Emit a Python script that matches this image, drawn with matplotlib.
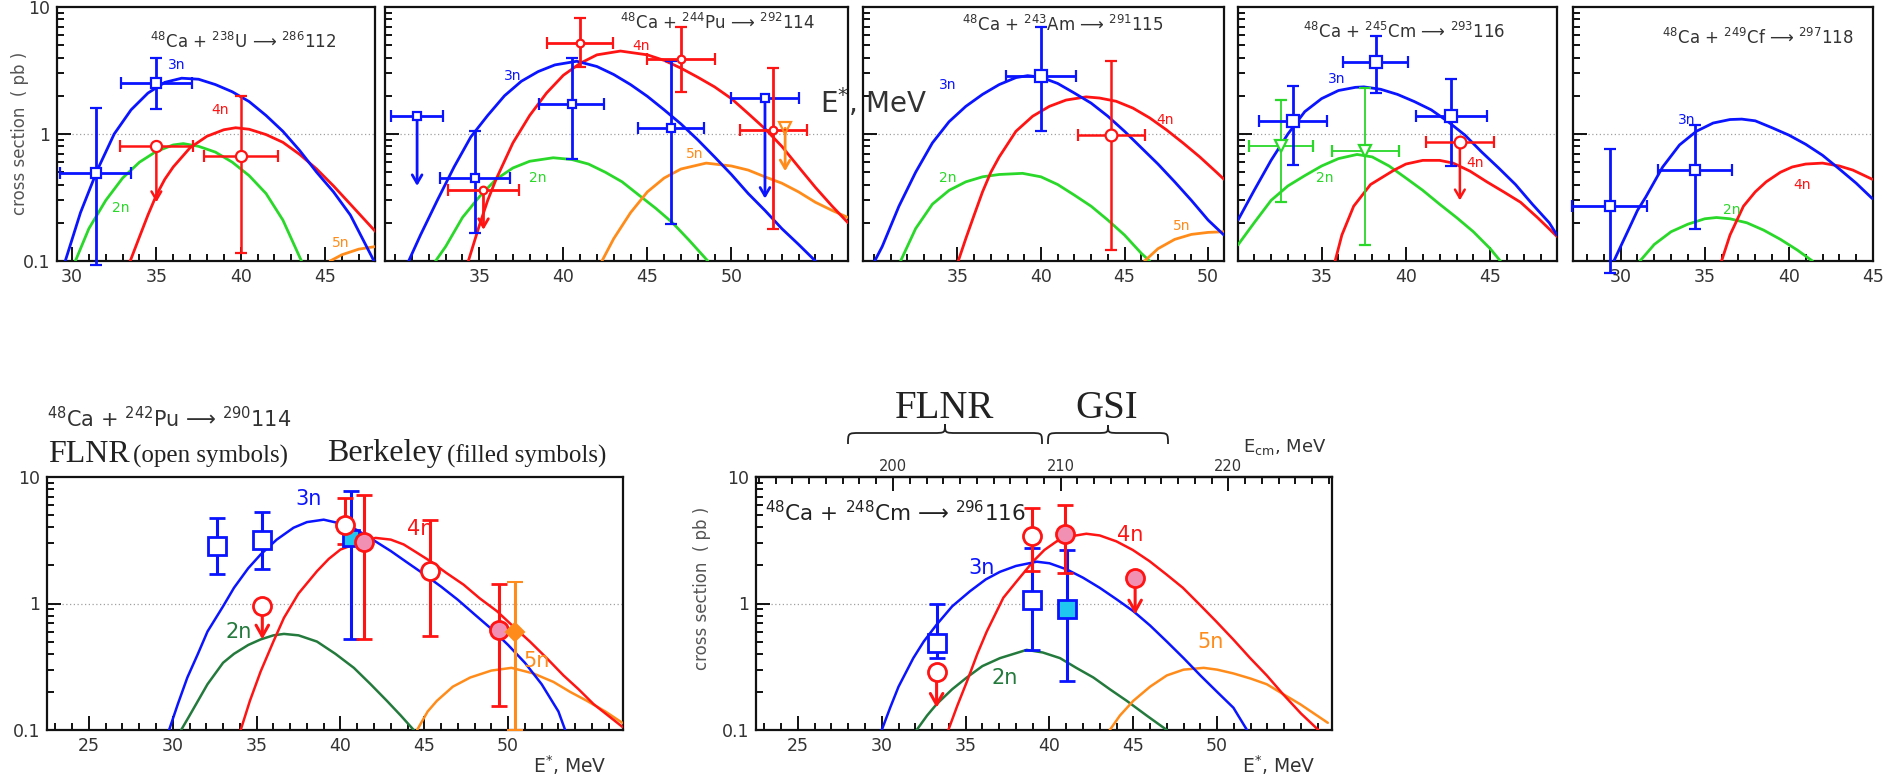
import numpy as np
import matplotlib
matplotlib.use("Agg")
import matplotlib.pyplot as plt
from matplotlib.ticker import MultipleLocator, NullFormatter
from matplotlib.path import Path
from matplotlib.patches import PathPatch

plt.rcParams['font.family'] = ['DejaVu Sans']
plt.rcParams['mathtext.fontset'] = 'dejavusans'
plt.rcParams['mathtext.default'] = 'regular'

# ---------------- DATA ----------------
# Panel 1: 48Ca + 238U
P1_3N_E = [29.6, 30.5, 31.5, 32.5, 33.5, 34.5, 35.5, 36.5, 37.5, 38.5, 39.5, 40.5, 41.5, 42.5, 43.5, 44.5, 45.5, 46.5, 47.9]
P1_3N_S = [0.1, 0.24, 0.52, 1.0, 1.55, 2.1, 2.55, 2.75, 2.7, 2.45, 2.15, 1.8, 1.4, 1.05, 0.74, 0.5, 0.35, 0.23, 0.1]
P1_4N_E = [33.45, 34.0, 34.5, 35.0, 35.5, 36.0, 37.0, 38.0, 39.0, 39.7, 40.5, 41.5, 42.5, 43.5, 44.5, 45.5, 46.5, 48.0]
P1_4N_S = [0.1, 0.155, 0.23, 0.33, 0.44, 0.55, 0.78, 0.96, 1.08, 1.12, 1.09, 0.99, 0.86, 0.69, 0.53, 0.39, 0.28, 0.17]
P1_2N_E = [30.2, 31.0, 32.0, 33.0, 34.0, 35.0, 36.0, 36.6, 37.5, 38.5, 39.5, 40.5, 41.5, 42.5, 43.0, 43.6]
P1_2N_S = [0.1, 0.18, 0.3, 0.45, 0.6, 0.73, 0.82, 0.84, 0.8, 0.72, 0.6, 0.47, 0.34, 0.21, 0.15, 0.1]
P1_5N_E = [45.3, 46.0, 47.0, 48.0]
P1_5N_S = [0.1, 0.112, 0.124, 0.13]
P1_SQ_E = [31.4, 35.0]
P1_SQ_S = [0.49, 2.52]
P1_SQ_LO = [0.093, 1.56]
P1_SQ_HI = [1.6, 4.0]
P1_SQ_XE = [2.1, 2.1]
P1_CI_E = [40.0]
P1_CI_S = [0.67]
P1_CI_LO = [0.115]
P1_CI_HI = [1.98]
P1_CI_XE = [2.2]
P1_UL_E = [35.0]
P1_UL_S = [0.8]
P1_UL_TO = [0.29]
P1_UL_XE = [2.15]

# Panel 2: 48Ca + 244Pu
P2_3N_E = [30.8, 31.5, 32.5, 33.5, 34.5, 35.5, 36.5, 37.5, 38.5, 39.5, 40.8, 42.0, 43.0, 44.0, 45.0, 46.0, 47.0, 48.0, 49.0, 50.0, 51.0, 52.0, 53.0, 54.0, 55.0]
P2_3N_S = [0.1, 0.16, 0.3, 0.55, 0.95, 1.4, 2.0, 2.6, 3.1, 3.5, 3.74, 3.4, 2.94, 2.45, 1.98, 1.55, 1.2, 0.9, 0.66, 0.48, 0.34, 0.25, 0.18, 0.135, 0.1]
P2_4N_E = [34.35, 35.0, 35.5, 36.0, 37.0, 38.0, 39.0, 40.0, 41.0, 42.0, 43.4, 45.0, 46.0, 47.0, 48.0, 49.0, 50.0, 51.0, 52.0, 53.0, 54.0, 55.0, 56.0, 56.94]
P2_4N_S = [0.1, 0.19, 0.3, 0.44, 0.85, 1.4, 2.1, 2.9, 3.6, 4.2, 4.5, 4.2, 3.8, 3.3, 2.8, 2.35, 1.9, 1.45, 1.1, 0.8, 0.55, 0.38, 0.27, 0.2]
P2_2N_E = [32.4, 33.0, 34.0, 35.0, 36.0, 37.0, 38.0, 39.4, 40.5, 41.5, 42.5, 43.5, 44.5, 45.5, 46.5, 47.5, 48.6]
P2_2N_S = [0.1, 0.13, 0.22, 0.32, 0.44, 0.54, 0.61, 0.65, 0.63, 0.58, 0.5, 0.42, 0.33, 0.26, 0.2, 0.145, 0.1]
P2_5N_E = [42.3, 43.0, 44.0, 45.0, 46.0, 47.0, 48.5, 50.0, 51.0, 52.0, 53.0, 54.0, 55.0, 56.0, 56.94]
P2_5N_S = [0.1, 0.15, 0.24, 0.35, 0.45, 0.53, 0.59, 0.56, 0.52, 0.46, 0.41, 0.35, 0.29, 0.25, 0.22]
P2_SQ_E = [34.75, 40.5, 46.4]
P2_SQ_S = [0.45, 1.73, 1.11]
P2_SQ_LO = [0.166, 0.63, 0.196]
P2_SQ_HI = [1.05, 3.97, 3.74]
P2_SQ_XE = [2.1, 1.95, 1.95]
P2_SQUL_E = [31.3, 52.0]
P2_SQUL_S = [1.38, 1.92]
P2_SQUL_TO = [0.39, 0.31]
P2_SQUL_XE = [1.55, 2.0]
P2_CI_E = [41.0, 47.0, 52.5]
P2_CI_S = [5.2, 3.9, 1.08]
P2_CI_LO = [3.4, 2.13, 0.18]
P2_CI_HI = [8.2, 7.0, 3.3]
P2_CI_XE = [1.95, 2.0, 2.0]
P2_CIUL_E = [35.25]
P2_CIUL_S = [0.365]
P2_CIUL_TO = [0.176]
P2_CIUL_XE = [2.1]
P2_TRUL_E = [53.2]
P2_TRUL_S = [1.11]
P2_TRUL_TO = [0.51]

# Panel 3: 48Ca + 243Am
P3_3N_E = [30.05, 30.5, 31.5, 32.5, 33.5, 34.5, 35.5, 36.5, 37.5, 38.5, 39.2, 40.0, 41.0, 42.0, 43.0, 44.0, 45.0, 46.0, 47.0, 48.0, 49.0, 50.0, 50.95]
P3_3N_S = [0.1, 0.13, 0.27, 0.5, 0.85, 1.25, 1.65, 2.05, 2.45, 2.78, 2.88, 2.8, 2.5, 2.1, 1.75, 1.38, 1.05, 0.78, 0.58, 0.42, 0.3, 0.21, 0.16]
P3_4N_E = [35.05, 35.5, 36.0, 36.5, 37.0, 37.5, 38.5, 39.5, 40.5, 41.5, 42.7, 43.5, 44.5, 45.5, 46.5, 47.5, 48.5, 49.5, 50.5, 50.95]
P3_4N_S = [0.1, 0.15, 0.23, 0.35, 0.5, 0.66, 1.05, 1.38, 1.65, 1.85, 1.96, 1.92, 1.81, 1.6, 1.34, 1.08, 0.85, 0.66, 0.5, 0.44]
P3_2N_E = [31.6, 32.5, 33.5, 34.5, 35.5, 36.5, 37.5, 38.9, 40.0, 41.0, 42.0, 43.0, 44.0, 45.0, 46.0, 46.5]
P3_2N_S = [0.1, 0.18, 0.28, 0.36, 0.42, 0.46, 0.48, 0.49, 0.46, 0.4, 0.33, 0.27, 0.21, 0.16, 0.115, 0.1]
P3_5N_E = [46.2, 47.0, 48.0, 49.0, 50.0, 50.95]
P3_5N_S = [0.1, 0.125, 0.148, 0.162, 0.168, 0.17]
P3_SQ_E = [40.0]
P3_SQ_S = [2.88]
P3_SQ_LO = [1.05]
P3_SQ_HI = [6.9]
P3_SQ_XE = [2.1]
P3_CI_E = [44.2]
P3_CI_S = [0.99]
P3_CI_LO = [0.123]
P3_CI_HI = [3.74]
P3_CI_XE = [2.0]

# Panel 4: 48Ca + 245Cm
P4_3N_E = [30.04, 31.0, 32.0, 33.0, 34.0, 35.0, 36.0, 37.0, 37.5, 38.5, 39.5, 40.5, 41.5, 42.5, 43.5, 44.5, 45.5, 46.5, 47.5, 48.5, 48.96]
P4_3N_S = [0.21, 0.36, 0.62, 1.0, 1.5, 1.9, 2.2, 2.33, 2.35, 2.25, 2.05, 1.8, 1.55, 1.25, 0.98, 0.72, 0.54, 0.4, 0.28, 0.2, 0.16]
P4_4N_E = [35.8, 36.2, 36.9, 37.9, 39.3, 40.0, 41.0, 42.0, 42.8, 43.8, 44.8, 45.8, 46.8, 47.8, 48.96]
P4_4N_S = [0.1, 0.16, 0.27, 0.4, 0.52, 0.58, 0.62, 0.62, 0.59, 0.51, 0.42, 0.35, 0.29, 0.22, 0.156]
P4_2N_E = [30.04, 31.0, 32.0, 33.0, 34.0, 35.0, 36.0, 37.1, 38.0, 39.0, 40.0, 41.0, 42.0, 43.0, 44.0, 45.0, 45.6]
P4_2N_S = [0.134, 0.2, 0.3, 0.39, 0.47, 0.56, 0.64, 0.69, 0.66, 0.56, 0.45, 0.36, 0.28, 0.22, 0.17, 0.125, 0.1]
P4_SQ_E = [33.3, 38.2, 42.7]
P4_SQ_S = [1.26, 3.67, 1.39]
P4_SQ_LO = [0.57, 2.1, 0.56]
P4_SQ_HI = [2.4, 5.9, 2.7]
P4_SQ_XE = [2.0, 1.95, 2.1]
P4_TR_E = [32.6, 37.6]
P4_TR_S = [0.8, 0.73]
P4_TR_LO = [0.29, 0.134]
P4_TR_HI = [1.86, 2.3]
P4_TR_XE = [1.9, 2.0]
P4_UL_E = [43.2]
P4_UL_S = [0.86]
P4_UL_TO = [0.3]
P4_UL_XE = [2.0]

# Panel 5: 48Ca + 249Cf
P5_3N_E = [29.6, 30.0, 30.5, 31.0, 31.5, 32.5, 33.5, 34.5, 35.5, 36.5, 37.2, 38.0, 39.0, 40.0, 41.0, 42.0, 43.0, 44.0, 44.96]
P5_3N_S = [0.1, 0.13, 0.18, 0.25, 0.32, 0.55, 0.82, 1.05, 1.22, 1.3, 1.31, 1.27, 1.12, 0.98, 0.83, 0.68, 0.53, 0.41, 0.31]
P5_4N_E = [36.0, 36.5, 37.3, 38.0, 38.65, 39.5, 40.2, 41.0, 42.0, 43.0, 43.8, 44.96]
P5_4N_S = [0.1, 0.16, 0.27, 0.35, 0.42, 0.5, 0.55, 0.58, 0.59, 0.56, 0.52, 0.44]
P5_2N_E = [31.15, 32.0, 33.0, 34.0, 35.0, 35.7, 36.5, 37.5, 38.5, 39.5, 40.5, 41.4]
P5_2N_S = [0.1, 0.135, 0.17, 0.195, 0.215, 0.22, 0.215, 0.2, 0.175, 0.148, 0.122, 0.1]
P5_SQ_E = [29.34, 34.4]
P5_SQ_S = [0.27, 0.52]
P5_SQ_LO = [0.081, 0.18]
P5_SQ_HI = [0.76, 1.18]
P5_SQ_XE = [2.2, 2.2]

# Bottom-left: 48Ca + 242Pu
BL_3N_E = [29.78, 30.3, 30.87, 31.5, 32.07, 33.0, 33.65, 34.5, 35.24, 36.2, 37.2, 38.0, 39.0, 40.3, 41.0, 42.0, 43.0, 44.0, 45.0, 46.0, 47.0, 48.0, 49.0, 50.0, 51.0, 52.0, 53.0, 53.4]
BL_3N_S = [0.1, 0.16, 0.26, 0.4, 0.6, 0.95, 1.33, 1.9, 2.44, 3.2, 3.97, 4.4, 4.6, 4.2, 3.8, 3.15, 2.6, 2.1, 1.7, 1.36, 1.07, 0.82, 0.63, 0.47, 0.34, 0.23, 0.14, 0.1]
BL_4N_E = [34.05, 34.6, 35.24, 36.0, 36.63, 37.5, 38.6, 39.3, 40.0, 41.3, 42.1, 43.0, 43.77, 44.5, 45.36, 46.3, 47.34, 48.3, 49.33, 50.3, 51.3, 52.3, 53.3, 54.2, 55.1, 56.85]
BL_4N_S = [0.1, 0.17, 0.29, 0.5, 0.77, 1.2, 1.8, 2.25, 2.67, 3.1, 3.3, 3.2, 2.93, 2.55, 2.16, 1.75, 1.41, 1.1, 0.87, 0.66, 0.5, 0.37, 0.27, 0.21, 0.16, 0.105]
BL_2N_E = [30.5, 31.0, 32.07, 33.0, 33.65, 34.5, 35.24, 36.0, 36.63, 37.5, 38.6, 39.7, 40.8, 41.8, 42.77, 43.6, 44.37]
BL_2N_S = [0.1, 0.13, 0.23, 0.34, 0.4, 0.47, 0.52, 0.56, 0.575, 0.56, 0.5, 0.4, 0.31, 0.23, 0.17, 0.13, 0.1]
BL_5N_E = [44.57, 45.2, 45.75, 46.7, 47.74, 49.0, 50.2, 51.5, 52.7, 53.7, 54.7, 55.8, 56.85]
BL_5N_S = [0.1, 0.14, 0.17, 0.22, 0.26, 0.295, 0.31, 0.28, 0.24, 0.2, 0.17, 0.14, 0.113]
BL_SQ_E = [32.66, 35.34]
BL_SQ_S = [2.84, 3.15]
BL_SQ_LO = [1.7, 1.89]
BL_SQ_HI = [4.77, 5.3]
BL_FSQ_E = [40.6]
BL_FSQ_S = [3.3]
BL_FSQ_LO = [0.52]
BL_FSQ_HI = [7.7]
BL_CI_E = [40.3, 45.36]
BL_CI_S = [4.2, 1.8]
BL_CI_LO = [2.93, 0.55]
BL_CI_HI = [6.8, 4.57]
BL_CIUL_E = [35.34]
BL_CIUL_S = [0.95]
BL_CIUL_TO = [0.52]
BL_FCI_E = [41.4, 49.46]
BL_FCI_S = [3.06, 0.62]
BL_FCI_LO = [0.52, 0.154]
BL_FCI_HI = [7.2, 1.43]
BL_DI_E = [50.4]
BL_DI_S = [0.6]
BL_DI_LO = [0.1]
BL_DI_HI = [1.48]

# Bottom-right: 48Ca + 248Cm
BR_3N_E = [30.0, 30.5, 31.0, 31.88, 32.5, 33.27, 34.2, 35.26, 36.2, 37.05, 38.0, 39.24, 40.0, 41.03, 42.0, 43.0, 44.0, 45.0, 46.0, 47.0, 48.0, 49.0, 50.0, 50.97, 51.78]
BR_3N_S = [0.1, 0.15, 0.22, 0.37, 0.5, 0.68, 0.95, 1.25, 1.55, 1.78, 1.98, 2.14, 2.08, 1.86, 1.6, 1.33, 1.08, 0.87, 0.67, 0.5, 0.37, 0.27, 0.2, 0.15, 0.1]
BR_4N_E = [33.97, 34.5, 35.07, 35.7, 36.26, 37.25, 38.05, 39.04, 39.7, 40.43, 41.3, 42.2, 43.0, 43.99, 44.97, 45.97, 46.97, 47.96, 48.96, 49.95, 50.96, 51.97, 52.96, 53.96, 55.0, 56.04]
BR_4N_S = [0.1, 0.155, 0.24, 0.4, 0.6, 1.11, 1.5, 2.16, 2.65, 3.1, 3.4, 3.56, 3.45, 3.1, 2.65, 2.16, 1.7, 1.33, 0.98, 0.72, 0.52, 0.37, 0.27, 0.19, 0.135, 0.1]
BR_2N_E = [32.08, 32.7, 33.27, 34.2, 35.07, 36.0, 37.05, 38.64, 39.6, 40.63, 41.6, 42.62, 43.6, 44.61, 45.8, 47.0]
BR_2N_S = [0.1, 0.13, 0.16, 0.21, 0.26, 0.32, 0.37, 0.43, 0.41, 0.37, 0.31, 0.26, 0.21, 0.17, 0.13, 0.1]
BR_5N_E = [43.6, 44.2, 45.0, 46.0, 47.0, 48.0, 49.2, 50.0, 50.97, 52.0, 52.96, 54.0, 54.95, 56.6]
BR_5N_S = [0.1, 0.13, 0.17, 0.22, 0.27, 0.3, 0.31, 0.3, 0.28, 0.255, 0.23, 0.19, 0.16, 0.114]
BR_SQ_E = [33.27, 38.98]
BR_SQ_S = [0.49, 1.06]
BR_SQ_LO = [0.37, 0.43]
BR_SQ_HI = [1.0, 2.76]
BR_FSQ_E = [41.03]
BR_FSQ_S = [0.9]
BR_FSQ_LO = [0.246]
BR_FSQ_HI = [2.63]
BR_CI_E = [38.98]
BR_CI_S = [3.41]
BR_CI_LO = [1.8]
BR_CI_HI = [5.65]
BR_CIUL_E = [33.27]
BR_CIUL_S = [0.286]
BR_CIUL_TO = [0.15]
BR_FCI_E = [40.9]
BR_FCI_S = [3.56]
BR_FCI_LO = [1.75]
BR_FCI_HI = [6.0]
BR_FCIUL_E = [45.11]
BR_FCIUL_S = [1.58]
BR_FCIUL_TO = [0.82]

ECM_OFFSET = 169.33
ECM_TICKS = [200, 210, 220]

# ---------------- STYLE ----------------
W, H = 1887, 777
fig = plt.figure(figsize=(W / 100, H / 100), dpi=100)

BLUE = '#0a14ff'
RED = '#ff1414'
GREEN = '#2ad82a'
DGREEN = '#237a3c'
ORANGE = '#ff8c1a'
PINK = '#f290b4'
CYAN = '#1ec6f0'
TXT = '#333333'


def add_ax(l, r, t, b):
    return fig.add_axes([l / W, 1 - b / H, (r - l) / W, (b - t) / H])


def style(ax, xlim, majors, ylabels, fs):
    ax.set_yscale('log')
    ax.set_ylim(0.1, 10)
    ax.set_xlim(*xlim)
    ax.set_xticks(majors)
    ax.set_xticklabels([str(m) for m in majors])
    ax.xaxis.set_minor_locator(MultipleLocator(1))
    ax.set_yticks([0.1, 1, 10])
    ax.set_yticklabels(['0.1', '1', '10'] if ylabels else [])
    ax.yaxis.set_minor_formatter(NullFormatter())
    ax.tick_params(which='both', direction='in', top=False, right=False,
                   width=1.4, color='#111', labelcolor=TXT, labelsize=fs, pad=5)
    ax.tick_params(which='major', length=10)
    ax.tick_params(which='minor', length=5)
    for s in ax.spines.values():
        s.set_linewidth(1.6)
        s.set_color('#111')
    ax.axhline(1, color='#a0a0a0', lw=0.9, ls=(0, (1, 2)), zorder=1)


def curve(ax, E, S, color, lw):
    ax.plot(E, S, color=color, lw=lw, zorder=3, solid_capstyle='round', solid_joinstyle='round')


def eb(ax, E, S, lo, hi, color, marker, ms, mfc, lw, cap, xerr=None, mew=1.6):
    yerr = [np.subtract(S, lo), np.subtract(hi, S)]
    c = ax.errorbar(E, S, yerr=yerr, xerr=xerr, fmt=marker, color=color, mec=color,
                    mfc=mfc, ms=ms, mew=mew, elinewidth=lw, capsize=cap, capthick=lw, zorder=6)
    for a in c.get_children():
        a.set_clip_on(False)


def ul(ax, E, S, to, color, marker, ms, mfc, lw, cap, xerr=None, mew=1.6, hl=0.6, hw=0.35):
    for e, s, t in zip(E, S, to):
        ax.annotate('', xy=(e, t), xytext=(e, s),
                    arrowprops=dict(arrowstyle='->,head_length=%g,head_width=%g' % (hl, hw),
                                    color=color, lw=lw, shrinkA=0, shrinkB=0), zorder=5)
    c = ax.errorbar(E, S, xerr=xerr, fmt=marker, color=color, mec=color, mfc=mfc, ms=ms,
                    mew=mew, elinewidth=lw, capsize=cap, capthick=lw, zorder=6)
    for a in c.get_children():
        a.set_clip_on(False)


def lab(ax, x, y, s, color, fs):
    ax.text(x, y, s, color=color, fontsize=fs, ha='center', va='center', zorder=7)


# ---------------- TOP ROW ----------------
LWC = 2.0
FSL = 10
FST = 12.5
ax1 = add_ax(57, 375, 7, 261)
style(ax1, (29.11, 47.96), [30, 35, 40, 45], True, FST)
curve(ax1, P1_2N_E, P1_2N_S, GREEN, LWC)
curve(ax1, P1_5N_E, P1_5N_S, ORANGE, LWC)
curve(ax1, P1_4N_E, P1_4N_S, RED, LWC)
curve(ax1, P1_3N_E, P1_3N_S, BLUE, LWC)
eb(ax1, P1_SQ_E, P1_SQ_S, P1_SQ_LO, P1_SQ_HI, BLUE, 's', 7.5, 'white', 2.0, 4, xerr=P1_SQ_XE)
eb(ax1, P1_CI_E, P1_CI_S, P1_CI_LO, P1_CI_HI, RED, 'o', 8, 'white', 1.8, 4, xerr=P1_CI_XE)
ul(ax1, P1_UL_E, P1_UL_S, P1_UL_TO, RED, 'o', 8, 'white', 1.8, 4, xerr=P1_UL_XE)
lab(ax1, 36.2, 3.5, '3n', BLUE, FSL)
lab(ax1, 38.8, 1.55, '4n', RED, FSL)
lab(ax1, 32.9, 0.26, '2n', GREEN, FSL)
lab(ax1, 45.9, 0.138, '5n', ORANGE, FSL)

ax2 = add_ax(385, 848, 7, 261)
style(ax2, (29.39, 56.94), [35, 40, 45, 50], False, FST)
curve(ax2, P2_2N_E, P2_2N_S, GREEN, LWC)
curve(ax2, P2_5N_E, P2_5N_S, ORANGE, LWC)
curve(ax2, P2_4N_E, P2_4N_S, RED, LWC)
curve(ax2, P2_3N_E, P2_3N_S, BLUE, LWC)
eb(ax2, P2_SQ_E, P2_SQ_S, P2_SQ_LO, P2_SQ_HI, BLUE, 's', 5.5, 'white', 2.0, 4, xerr=P2_SQ_XE)
ul(ax2, P2_SQUL_E, P2_SQUL_S, P2_SQUL_TO, BLUE, 's', 5.5, 'white', 2.0, 4, xerr=P2_SQUL_XE)
eb(ax2, P2_CI_E, P2_CI_S, P2_CI_LO, P2_CI_HI, RED, 'o', 5.5, 'white', 2.0, 4, xerr=P2_CI_XE)
ul(ax2, P2_CIUL_E, P2_CIUL_S, P2_CIUL_TO, RED, 'o', 5.5, 'white', 2.0, 4, xerr=P2_CIUL_XE)
ul(ax2, P2_TRUL_E, P2_TRUL_S, P2_TRUL_TO, ORANGE, 'v', 8, 'none', 2.0, 4)
lab(ax2, 37.0, 2.85, '3n', BLUE, FSL)
lab(ax2, 44.65, 4.9, '4n', RED, FSL)
lab(ax2, 38.5, 0.45, '2n', GREEN, FSL)
lab(ax2, 47.8, 0.69, '5n', ORANGE, FSL)

ax3 = add_ax(863, 1224, 7, 261)
style(ax3, (29.35, 50.95), [35, 40, 45, 50], False, FST)
curve(ax3, P3_2N_E, P3_2N_S, GREEN, LWC)
curve(ax3, P3_5N_E, P3_5N_S, ORANGE, LWC)
curve(ax3, P3_4N_E, P3_4N_S, RED, LWC)
curve(ax3, P3_3N_E, P3_3N_S, BLUE, LWC)
eb(ax3, P3_SQ_E, P3_SQ_S, P3_SQ_LO, P3_SQ_HI, BLUE, 's', 8.5, 'white', 2.0, 4, xerr=P3_SQ_XE)
eb(ax3, P3_CI_E, P3_CI_S, P3_CI_LO, P3_CI_HI, RED, 'o', 8.5, 'white', 1.8, 4, xerr=P3_CI_XE)
lab(ax3, 34.4, 2.45, '3n', BLUE, FSL)
lab(ax3, 47.4, 1.3, '4n', RED, FSL)
lab(ax3, 34.4, 0.45, '2n', GREEN, FSL)
lab(ax3, 48.4, 0.19, '5n', ORANGE, FSL)

ax4 = add_ax(1238, 1557, 7, 261)
style(ax4, (30.04, 48.96), [35, 40, 45], False, FST)
curve(ax4, P4_2N_E, P4_2N_S, GREEN, LWC)
curve(ax4, P4_4N_E, P4_4N_S, RED, LWC)
curve(ax4, P4_3N_E, P4_3N_S, BLUE, LWC)
eb(ax4, P4_TR_E, P4_TR_S, P4_TR_LO, P4_TR_HI, GREEN, 'v', 9, 'white', 1.3, 4, xerr=P4_TR_XE)
eb(ax4, P4_SQ_E, P4_SQ_S, P4_SQ_LO, P4_SQ_HI, BLUE, 's', 8.5, 'white', 2.0, 4, xerr=P4_SQ_XE)
ul(ax4, P4_UL_E, P4_UL_S, P4_UL_TO, RED, 'o', 8.5, 'white', 1.8, 4, xerr=P4_UL_XE)
lab(ax4, 35.9, 2.7, '3n', BLUE, FSL)
lab(ax4, 35.2, 0.45, '2n', GREEN, FSL)
lab(ax4, 44.1, 0.59, '4n', RED, FSL)

ax5 = add_ax(1573, 1873, 7, 261)
style(ax5, (27.17, 44.96), [30, 35, 40, 45], False, FST)
curve(ax5, P5_2N_E, P5_2N_S, GREEN, LWC)
curve(ax5, P5_4N_E, P5_4N_S, RED, LWC)
curve(ax5, P5_3N_E, P5_3N_S, BLUE, LWC)
eb(ax5, P5_SQ_E, P5_SQ_S, P5_SQ_LO, P5_SQ_HI, BLUE, 's', 7.5, 'white', 2.0, 4, xerr=P5_SQ_XE)
lab(ax5, 33.9, 1.3, '3n', BLUE, FSL)
lab(ax5, 40.8, 0.4, '4n', RED, FSL)
lab(ax5, 36.6, 0.25, '2n', GREEN, FSL)

# ---------------- BOTTOM ROW ----------------
LWB = 1.8
FSB = 15
FSBT = 12.5
axl = add_ax(47, 623, 477, 730)
style(axl, (22.5, 56.85), [25, 30, 35, 40, 45, 50], True, FSBT)
curve(axl, BL_2N_E, BL_2N_S, DGREEN, LWB)
curve(axl, BL_5N_E, BL_5N_S, ORANGE, LWB)
curve(axl, BL_4N_E, BL_4N_S, RED, LWB)
curve(axl, BL_3N_E, BL_3N_S, BLUE, LWB)
eb(axl, BL_SQ_E, BL_SQ_S, BL_SQ_LO, BL_SQ_HI, BLUE, 's', 13, 'white', 2.2, 5.5, mew=2)
eb(axl, BL_FSQ_E, BL_FSQ_S, BL_FSQ_LO, BL_FSQ_HI, BLUE, 's', 12, CYAN, 2.2, 5.5, mew=2)
eb(axl, BL_CI_E, BL_CI_S, BL_CI_LO, BL_CI_HI, RED, 'o', 13, 'white', 2.2, 5.5, mew=2)
ul(axl, BL_CIUL_E, BL_CIUL_S, BL_CIUL_TO, RED, 'o', 13, 'white', 2.2, 5.5, mew=2, hl=0.8, hw=0.45)
eb(axl, BL_FCI_E, BL_FCI_S, BL_FCI_LO, BL_FCI_HI, RED, 'o', 13, PINK, 2.2, 5.5, mew=2)
eb(axl, BL_DI_E, BL_DI_S, BL_DI_LO, BL_DI_HI, ORANGE, 'D', 9, ORANGE, 2.2, 5.5, mew=1.5)
lab(axl, 38.1, 6.65, '3n', BLUE, FSB)
lab(axl, 33.95, 0.6, '2n', DGREEN, FSB)
lab(axl, 44.76, 3.85, '4n', RED, FSB)
lab(axl, 51.7, 0.35, '5n', ORANGE, FSB)

axr = add_ax(756, 1332, 477, 730)
style(axr, (22.5, 56.85), [25, 30, 35, 40, 45, 50], True, FSBT)
curve(axr, BR_2N_E, BR_2N_S, DGREEN, LWB)
curve(axr, BR_5N_E, BR_5N_S, ORANGE, LWB)
curve(axr, BR_4N_E, BR_4N_S, RED, LWB)
curve(axr, BR_3N_E, BR_3N_S, BLUE, LWB)
eb(axr, BR_SQ_E, BR_SQ_S, BR_SQ_LO, BR_SQ_HI, BLUE, 's', 13, 'white', 2.2, 5.5, mew=2)
eb(axr, BR_FSQ_E, BR_FSQ_S, BR_FSQ_LO, BR_FSQ_HI, BLUE, 's', 13, CYAN, 2.2, 5.5, mew=2)
eb(axr, BR_CI_E, BR_CI_S, BR_CI_LO, BR_CI_HI, RED, 'o', 13, 'white', 2.2, 5.5, mew=2)
ul(axr, BR_CIUL_E, BR_CIUL_S, BR_CIUL_TO, RED, 'o', 13, 'white', 2.2, 5.5, mew=2, hl=0.8, hw=0.45)
eb(axr, BR_FCI_E, BR_FCI_S, BR_FCI_LO, BR_FCI_HI, RED, 'o', 13, PINK, 2.2, 5.5, mew=2)
ul(axr, BR_FCIUL_E, BR_FCIUL_S, BR_FCIUL_TO, RED, 'o', 13, PINK, 2.2, 5.5, mew=2, hl=0.8, hw=0.45)
lab(axr, 35.96, 1.92, '3n', BLUE, FSB)
lab(axr, 44.8, 3.5, '4n', RED, FSB)
lab(axr, 37.35, 0.26, '2n', DGREEN, FSB)
lab(axr, 49.6, 0.5, '5n', ORANGE, FSB)

sec = axr.secondary_xaxis('top', functions=(lambda e: e + ECM_OFFSET, lambda c: c - ECM_OFFSET))
sec.set_xticks(ECM_TICKS)
sec.set_xticklabels([str(t) for t in ECM_TICKS])
sec.xaxis.set_minor_locator(MultipleLocator(1))
sec.tick_params(which='both', direction='in', width=1.4, color='#111', labelcolor=TXT, labelsize=10.5, pad=2)
sec.tick_params(which='major', length=10)
sec.tick_params(which='minor', length=5)
sec.spines['top'].set_linewidth(1.6)

# ---------------- OVERLAY TEXT ----------------
ov = fig.add_axes([0, 0, 1, 1], zorder=20)
ov.set_xlim(0, W)
ov.set_ylim(H, 0)
ov.axis('off')
ov.patch.set_alpha(0)


def T(x, y, s, fs, ha='left', **kw):
    kw.setdefault('color', TXT)
    ov.text(x, y, s, fontsize=fs, ha=ha, va='center', **kw)


ARW = '\u27f6'
T(150, 42, '$^{48}$Ca + $^{238}$U ' + ARW + ' $^{286}$112', 12)
T(620, 23, '$^{48}$Ca + $^{244}$Pu ' + ARW + ' $^{292}$114', 12)
T(962, 25, '$^{48}$Ca + $^{243}$Am ' + ARW + ' $^{291}$115', 12)
T(1303, 32, '$^{48}$Ca + $^{245}$Cm ' + ARW + ' $^{293}$116', 12)
T(1662, 38, '$^{48}$Ca + $^{249}$Cf ' + ARW + ' $^{297}$118', 12)
T(820, 103, 'E$^{*}$, MeV', 20)
T(20, 133, 'cross section  ( pb )', 12, ha='center', rotation=90, color='#555555')

T(47, 419, '$^{48}$Ca + $^{242}$Pu ' + ARW + ' $^{290}$114', 15)
SERIF = ['Liberation Serif', 'DejaVu Serif']
T(48, 454, 'FLNR', 23, family=SERIF, color='#222222')
T(133, 456, '(open symbols)', 18, family=SERIF, color='#222222')
T(327, 454, 'Berkeley', 23, family=SERIF, color='#222222')
T(447, 456, '(filled symbols)', 18, family=SERIF, color='#222222')

T(765, 513, '$^{48}$Ca + $^{248}$Cm ' + ARW + ' $^{296}$116', 15.5, color='#222222')
T(945, 409, 'FLNR', 28, ha='center', family=SERIF, color='#222222')
T(1107, 409, 'GSI', 28, ha='center', family=SERIF, color='#222222')
T(1243, 447, 'E$_{cm}$, MeV', 13)
T(533, 765, 'E$^{*}$, MeV', 13.5)
T(1242, 765, 'E$^{*}$, MeV', 13.5)
T(702, 588, 'cross section  ( pb )', 12, ha='center', rotation=90, color='#555555')


def brace(x1, x2, ytip, ybody, ycusp, r=12):
    xm = 0.5 * (x1 + x2)
    verts = [(x1, ytip), (x1, ybody), (x1, ybody), (x1 + r, ybody),
             (xm - r, ybody),
             (xm, ybody), (xm, ybody), (xm, ycusp),
             (xm, ybody), (xm, ybody), (xm + r, ybody),
             (x2 - r, ybody),
             (x2, ybody), (x2, ybody), (x2, ytip)]
    codes = [Path.MOVETO, Path.CURVE4, Path.CURVE4, Path.CURVE4,
             Path.LINETO,
             Path.CURVE4, Path.CURVE4, Path.CURVE4,
             Path.CURVE4, Path.CURVE4, Path.CURVE4,
             Path.LINETO,
             Path.CURVE4, Path.CURVE4, Path.CURVE4]
    ov.add_patch(PathPatch(Path(verts, codes), fill=False, lw=1.3, color='#222222'))


brace(848, 1042, 444, 433, 424)
brace(1048, 1168, 444, 433, 425)

fig.savefig('out.png', dpi=100)
